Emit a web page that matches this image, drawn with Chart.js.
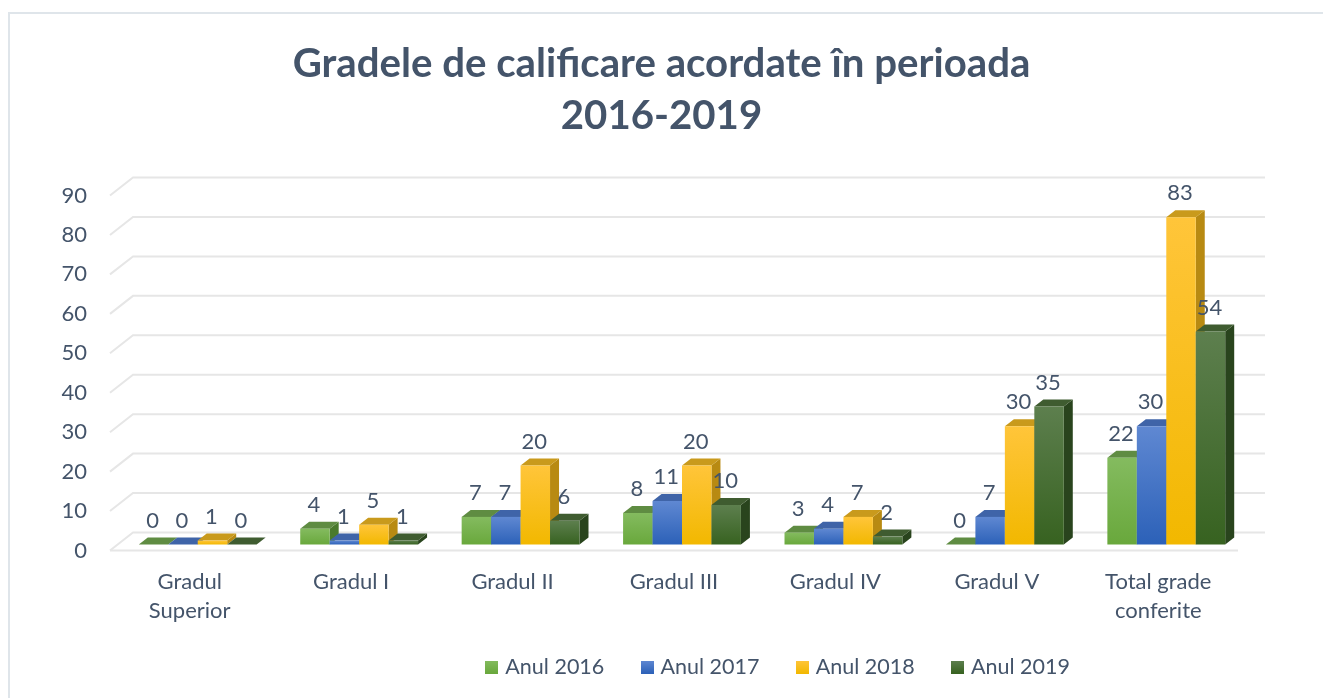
<!DOCTYPE html>
<html>
<head>
<meta charset="utf-8">
<title>Gradele de calificare</title>
<script src="https://cdn.jsdelivr.net/npm/chart.js@4"></script>
<style>
  html, body { margin: 0; padding: 0; background: #fff; }
  canvas { display: block; }
</style>
</head>
<body>
<canvas id="chart" width="1323" height="698"></canvas>
<script>
const categories = [['Gradul', 'Superior'], 'Gradul I', 'Gradul II', 'Gradul III', 'Gradul IV', 'Gradul V', ['Total grade', 'conferite']];
const seriesNames = ['Anul 2016', 'Anul 2017', 'Anul 2018', 'Anul 2019'];
const anul2016 = [0, 4, 7, 8, 3, 0, 22];
const anul2017 = [0, 1, 7, 11, 4, 7, 30];
const anul2018 = [1, 5, 20, 20, 7, 30, 83];
const anul2019 = [0, 1, 6, 10, 2, 35, 54];
const seriesValues = [anul2016, anul2017, anul2018, anul2019];
const yTicks = [0, 10, 20, 30, 40, 50, 60, 70, 80, 90];

const textColor = '#44546a';
const fontName = 'Lato, Carlito, sans-serif';
// light / dark end of the front face, then top and side face
const palette = [
  { light: '#84bb5f', dark: '#69a83c', top: '#5f8c42', side: '#4a7a2c' },
  { light: '#5f88d2', dark: '#2c61b8', top: '#3f64a8', side: '#2a4f8f' },
  { light: '#ffc53a', dark: '#f2b800', top: '#c99a1c', side: '#b88a12' },
  { light: '#5d7f4e', dark: '#376220', top: '#3f5c30', side: '#29441d' }
];
const depthX = 9;
const depthY = 7;

function frontGradient(ctx, top, bottom, colors) {
  const g = ctx.createLinearGradient(0, top, 0, Math.max(bottom, top + 1));
  g.addColorStop(0, colors.light);
  g.addColorStop(1, colors.dark);
  return g;
}

function fillPoly(ctx, points, color) {
  ctx.fillStyle = color;
  ctx.beginPath();
  points.forEach((p, i) => i ? ctx.lineTo(p[0], p[1]) : ctx.moveTo(p[0], p[1]));
  ctx.closePath();
  ctx.fill();
}

function legendSwatch(colors) {
  const c = document.createElement('canvas');
  c.width = 13;
  c.height = 13;
  const x = c.getContext('2d');
  x.fillStyle = frontGradient(x, 0, 13, colors);
  x.fillRect(0, 0, 13, 13);
  return c;
}

function drawFaces(ctx, meta, colors) {
  meta.data.forEach(bar => {
    const l = bar.x - bar.width / 2;
    const r = bar.x + bar.width / 2;
    fillPoly(ctx, [[r, bar.y], [r + depthX, bar.y - depthY], [r + depthX, bar.base - depthY], [r, bar.base]], colors.side);
    fillPoly(ctx, [[l, bar.y], [l + depthX, bar.y - depthY], [r + depthX, bar.y - depthY], [r, bar.y]], colors.top);
  });
}

// page frame and the fake 3D walls behind the bars
const wallsPlugin = {
  id: 'walls',
  afterLayout(chart) {
    // legend sits right of the centre in the reference, its wide item padding also makes it too tall
    chart.legend.left += 118;
    chart.legend.right += 118;
    chart.legend.top -= 30;
    chart.legend.bottom -= 30;
  },
  beforeDatasetsDraw(chart) {
    const ctx = chart.ctx;
    const y = chart.scales.y;
    const a = chart.chartArea;
    ctx.save();
    ctx.lineWidth = 2;
    ctx.strokeStyle = '#dfe5ea';
    ctx.beginPath();
    ctx.moveTo(9, 698);
    ctx.lineTo(9, 13);
    ctx.lineTo(1323, 13);
    ctx.stroke();
    ctx.strokeStyle = '#e6e6e6';
    yTicks.forEach(v => {
      const py = y.getPixelForValue(v);
      ctx.beginPath();
      ctx.moveTo(a.left - 7, py + 6);
      ctx.lineTo(a.left + 16, py - 12);
      ctx.lineTo(a.right + 18, py - 12);
      ctx.stroke();
    });
    const py0 = y.getPixelForValue(0);
    ctx.beginPath();
    ctx.moveTo(a.left - 7, py0 + 6);
    ctx.lineTo(a.right - 9, py0 + 6);
    ctx.stroke();
    ctx.restore();
  },
  // default order paints the last series first, here the next bar has to cover the side of the previous one
  beforeDatasetDraw() {
    return false;
  },
  afterDatasetsDraw(chart) {
    const ctx = chart.ctx;
    seriesNames.forEach((name, i) => {
      const meta = chart.getDatasetMeta(i);
      drawFaces(ctx, meta, palette[i]);
      meta.controller.draw();
    });
    ctx.save();
    ctx.fillStyle = textColor;
    ctx.font = '22px ' + fontName;
    ctx.textAlign = 'center';
    ctx.textBaseline = 'middle';
    chart.data.datasets.forEach((ds, i) => {
      chart.getDatasetMeta(i).data.forEach((bar, j) => {
        ctx.fillText(ds.data[j], bar.x - 1, bar.y - 24);
      });
    });
    ctx.restore();
  }
};

const chart = new Chart(document.getElementById('chart').getContext('2d'), {
  type: 'bar',
  data: {
    labels: categories,
    datasets: seriesNames.map((name, i) => ({
      label: name,
      data: seriesValues[i],
      categoryPercentage: 0.73,
      barPercentage: 1,
      backgroundColor: c => {
        if (c.parsed === undefined || c.parsed === null) return palette[i].dark;
        const s = c.chart.scales.y;
        return frontGradient(c.chart.ctx, s.getPixelForValue(c.parsed.y), s.getPixelForValue(0), palette[i]);
      }
    }))
  },
  options: {
    responsive: false,
    animation: false,
    layout: { padding: { top: 0, bottom: -20 } },
    scales: {
      x: {
        grid: { display: false },
        border: { display: false },
        afterFit: s => { s.height = 102; },
        ticks: {
          color: textColor,
          font: { family: fontName, size: 22, lineHeight: 1.36 },
          padding: 14,
          labelOffset: -8,
          maxRotation: 0
        }
      },
      y: {
        min: 0,
        max: 90,
        afterFit: s => { s.width = 117; },
        afterBuildTicks: s => { s.ticks = yTicks.map(v => ({ value: v })); },
        grid: { display: false },
        border: { display: false },
        ticks: {
          color: textColor,
          font: { family: fontName, size: 22 },
          padding: 22,
          labelOffset: 6
        }
      },
      // empty right axis, only keeps the plot clear of the right edge
      y2: {
        position: 'right',
        afterFit: s => { s.width = 76; },
        grid: { display: false },
        border: { display: false },
        ticks: { display: false }
      }
    },
    plugins: {
      title: {
        display: true,
        text: ['Gradele de calificare acordate în perioada', '2016-2019'],
        color: textColor,
        font: { family: fontName, size: 40.2, weight: 'bold', lineHeight: 1.3 },
        padding: { top: 38, bottom: 47 }
      },
      legend: {
        position: 'bottom',
        onClick: null,
        labels: {
          color: textColor,
          font: { family: fontName, size: 21.5 },
          usePointStyle: true,
          pointStyleWidth: 5.5,
          boxHeight: 13,
          padding: 40,
          generateLabels: () => seriesNames.map((name, i) => ({
            text: name,
            datasetIndex: i,
            fontColor: textColor,
            lineWidth: 0,
            strokeStyle: 'rgba(0,0,0,0)',
            pointStyle: legendSwatch(palette[i])
          }))
        }
      },
      tooltip: { enabled: false }
    }
  },
  plugins: [wallsPlugin]
});
</script>
</body>
</html>
